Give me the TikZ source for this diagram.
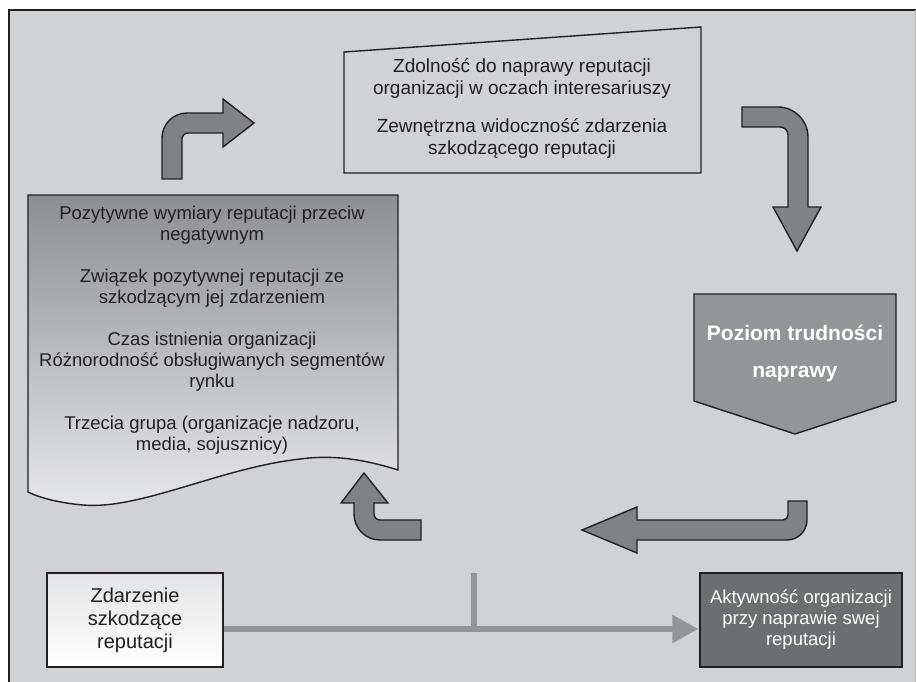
\documentclass[tikz,border=0pt]{standalone}
\usepackage{fontspec}
\setmainfont{Liberation Sans}
\usetikzlibrary{arrows.meta}

\definecolor{bggray}{HTML}{D1D2D4}
\definecolor{arrowgray}{HTML}{808285}
\definecolor{midgray}{HTML}{939598}
\definecolor{darkgray}{HTML}{6D6E71}
\definecolor{ink}{HTML}{231F20}

\begin{document}
\begin{tikzpicture}[x=1pt,y=-1pt,
    outline/.style={draw=ink,line width=1.4pt},
    bent/.style={outline,fill=arrowgray,line join=miter},
    txt/.style={text=ink,align=center,font=\fontsize{18.5}{21}\selectfont},
    link/.style={midgray,line width=5.5pt},
    >={Triangle[length=26pt,width=27pt]}]
  \useasboundingbox (0,0) rectangle (916,682);
  % frame
  \fill[bggray] (9,10) rectangle (916,682);
  \draw[ink,line width=1.5pt] (9,682) -- (9,10) -- (916,10);
  \draw[gray!60,line width=0.8pt] (915,10) -- (915,682);

  % top box
  \draw[outline,fill=bggray] (344,52) -- (701,27) -- (701,173) -- (344,173) -- cycle;
  \node[txt,font=\fontsize{19}{22}\selectfont] (zdol) at (522,108)
    {Zdolność do naprawy reputacji\\ organizacji w oczach interesariuszy\\[16pt]
     Zewnętrzna widoczność zdarzenia\\ szkodzącego reputacji};

  % document shape
  \draw[outline,top color=arrowgray!90,bottom color=bggray!50]
    (28,195) -- (398,195) -- (398,470)
    .. controls (360,458) and (330,455) .. (300,459)
    .. controls (220,468) and (140,510) .. (83,505)
    .. controls (60,503) and (40,498) .. (28,492) -- cycle;
  \node[txt] (wym) at (212,330.5)
    {Pozytywne wymiary reputacji przeciw\\ negatywnym\\[21pt]
     Związek pozytywnej reputacji ze\\ szkodzącym jej zdarzeniem\\[21pt]
     Czas istnienia organizacji\\ Różnorodność obsługiwanych segmentów\\ rynku\\[21pt]
     Trzecia grupa (organizacje nadzoru,\\ media, sojusznicy)};

  % pentagon
  \draw[outline,fill=midgray] (694,294) -- (896,294) -- (896,401) -- (795,434) -- (694,401) -- cycle;
  \node[text=white,align=center,font=\bfseries\fontsize{21}{37}\selectfont] (poziom) at (795,353)
    {Poziom trudności\\ naprawy};

  % bent arrows
  \draw[bent] (162,179) -- (162,138) .. controls (162,124.2) and (173.2,113) .. (187,113)
    -- (223,113) -- (223,99) -- (254,123) -- (223,147) -- (223,133) -- (188,133)
    .. controls (184.7,133) and (182,135.7) .. (182,139) -- (182,179) -- cycle;
  \draw[bent] (742,107) -- (778,107) .. controls (794.6,107) and (808,120.4) .. (808,137)
    -- (808,207) -- (821,207) -- (797,251) -- (773,207) -- (788,207) -- (788,135)
    .. controls (788,130.6) and (784.4,127) .. (780,127) -- (742,127) -- cycle;
  \draw[bent] (582,530) -- (637,507) -- (637,520) -- (783,520)
    .. controls (785.8,520) and (788,517.8) .. (788,515) -- (788,501) -- (807,501) -- (807,520)
    .. controls (807,531) and (798,540) .. (787,540) -- (637,540) -- (637,553) -- cycle;
  \draw[bent] (364,473) -- (388,503) -- (374,503) -- (374,514)
    .. controls (374,517.3) and (376.7,520) .. (380,520) -- (421,520) -- (421,540) -- (380,540)
    .. controls (365.6,540) and (354,528.4) .. (354,514) -- (354,503) -- (341,503) -- cycle;

  % bottom boxes
  \node[txt,outline,top color=bggray!60,bottom color=white,minimum width=176pt,minimum height=94pt,
    font=\fontsize{20}{23}\selectfont] (zdarz) at (135,620) {Zdarzenie\\ szkodzące\\ reputacji};
  \node[txt,outline,fill=darkgray,text=white,minimum width=202pt,minimum height=94pt] (aktyw) at (801,620)
    {Aktywność organizacji\\ przy naprawie swej\\ reputacji};

  \coordinate (tick) at (474,573);
  \draw[link] ([yshift=-9pt]zdarz.east) coordinate (start) -- (start -| tick) coordinate (join);
  \draw[link,->,shorten >=1pt] (join) -- ([yshift=-9pt]aktyw.west);
  \draw[link] (tick) -- ([yshift=2.75pt]join);
\end{tikzpicture}
\end{document}
